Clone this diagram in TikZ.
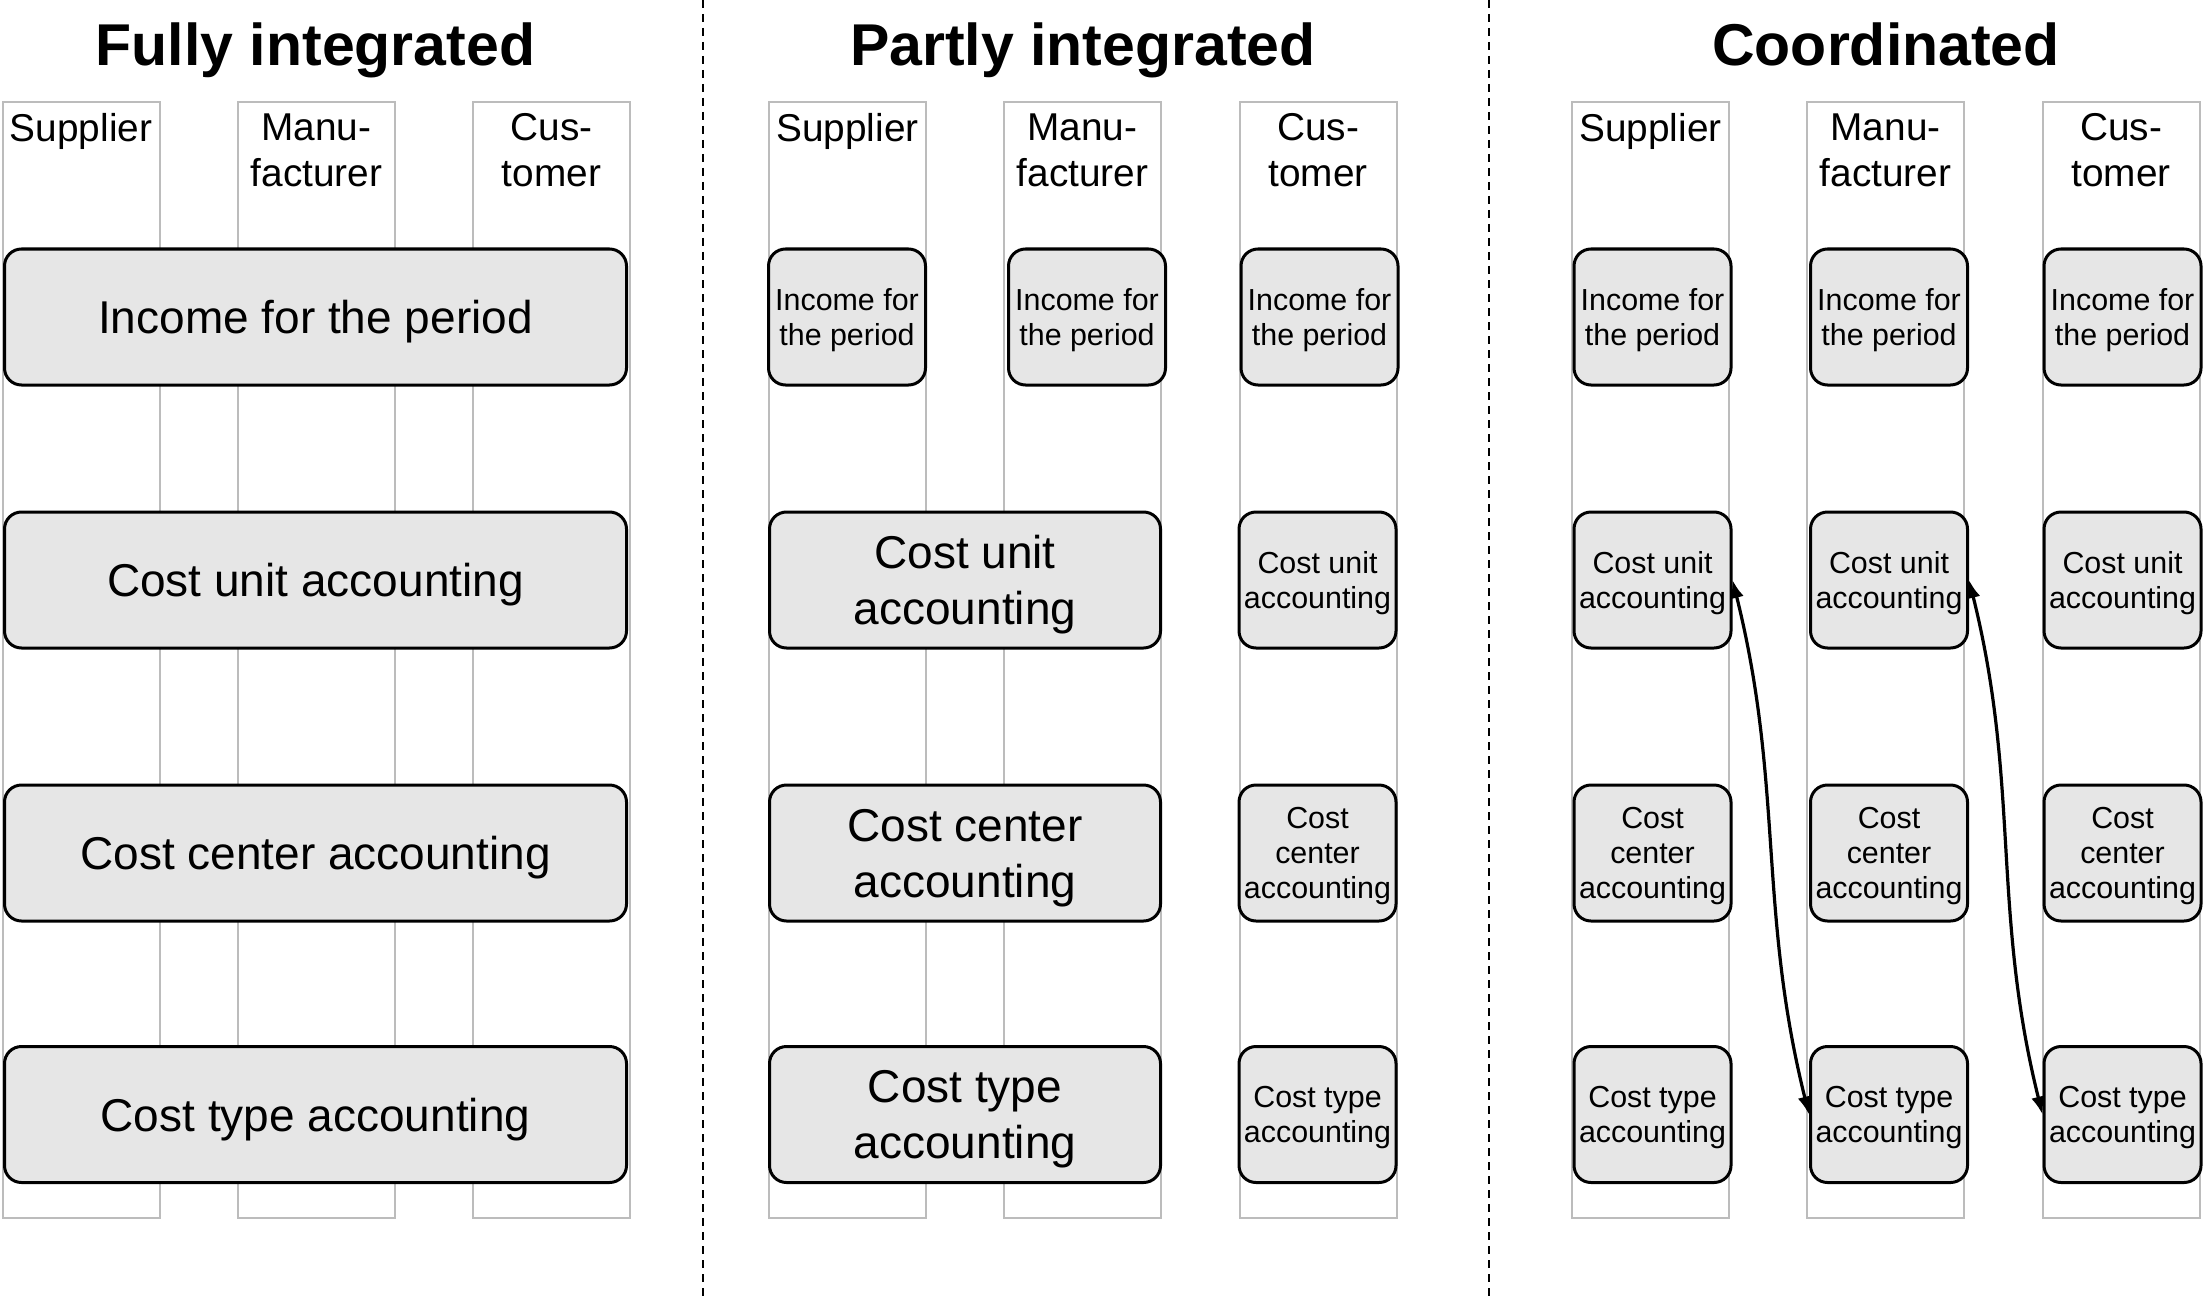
\documentclass[tikz,border=0pt]{standalone}
\usepackage{fontspec}
\setmainfont{Liberation Sans}
\usepackage{tikz}
\usetikzlibrary{arrows.meta,positioning}
\usepackage{xcolor}
\definecolor{boxgray}{RGB}{230,230,230}
\definecolor{lanegray}{RGB}{188,188,188}

\begin{document}
\begin{tikzpicture}[x=0.5pt,y=-0.5pt,
    lane/.style={draw=lanegray, line width=1pt},
    head/.style={anchor=north, inner sep=0pt, align=center, font=\fontsize{19.4}{23.25}\selectfont},
    paneltitle/.style={anchor=base, inner sep=0pt, font=\fontsize{29.5}{35}\selectfont\bfseries},
    acc/.style={draw, line width=1.5pt, fill=boxgray, rounded corners=8.5pt, align=center, inner sep=0pt, minimum height=68pt, text depth=0pt},
    bigbox/.style={acc, font=\fontsize{23}{28}\selectfont},
    smallbox/.style={acc, minimum width=78.5pt, text depth=-1pt, font=\fontsize{15.2}{17.5}\selectfont},
    link/.style={line width=1.6pt, {Latex[length=9pt,width=7pt]}-{Latex[length=9pt,width=7pt]}}]
    \useasboundingbox (0,0) rectangle (2209,1300);
    % Draw the separators between the three panels
    \draw[line width=0.75pt, dash pattern=on 4pt off 3pt] (703,0) -- (703,1300);
    \draw[line width=0.75pt, dash pattern=on 4pt off 3pt] (1489,0) -- (1489,1300);
    % Panel titles
    \node[paneltitle] (tfull) at (315.5,66) {Fully integrated};
    \node[paneltitle] (tpart) at (1083,66) {Partly integrated};
    \node[paneltitle] (tcoord) at (1886,66) {Coordinated};
    % Draw the lanes
    \foreach \x in {81,316.5,551.5,847.5,1082.5,1318,1650.5,1885.5,2121} {
        \draw[lane] (\x-78.5,102) rectangle (\x+78.5,1218);
    }
    % Lane headings
    \foreach \x [count=\p] in {81,847.5,1650.5} {
        \node[head] (sup\p) at (\x,113) {Supplier};
    }
    \foreach \x [count=\p] in {316.5,1082.5,1885.5} {
        \node[head] (man\p) at (\x,113) {Manu-\\facturer};
    }
    \foreach \x [count=\p] in {551.5,1318,2121} {
        \node[head] (cus\p) at (\x,113) {Cus-\\tomer};
    }
    % Fully integrated
    \node[bigbox, minimum width=311pt] (full1) at (315.5,317) {Income for the period};
    \node[bigbox, minimum width=311pt] (full2) at (315.5,580) {Cost unit accounting};
    \node[bigbox, minimum width=311pt] (full3) at (315.5,853) {Cost center accounting};
    \node[bigbox, minimum width=311pt] (full4) at (315.5,1114.5) {Cost type accounting};
    % Partly integrated
    \node[smallbox] (pis1) at (847,317) {Income for\\the period};
    \node[smallbox] (pim1) at (1087,317) {Income for\\the period};
    \node[smallbox] (pic1) at (1319.5,317) {Income for\\the period};
    \node[bigbox, minimum width=195.5pt] (pi2) at (965,580) {Cost unit\\accounting};
    \node[bigbox, minimum width=195.5pt] (pi3) at (965,853) {Cost center\\accounting};
    \node[bigbox, minimum width=195.5pt] (pi4) at (965,1114.5) {Cost type\\accounting};
    \node[smallbox] (pic2) at (1317.5,580) {Cost unit\\accounting};
    \node[smallbox] (pic3) at (1317.5,853) {Cost\\center\\accounting};
    \node[smallbox] (pic4) at (1317.5,1114.5) {Cost type\\accounting};
    % Coordinated
    \foreach \r/\y/\txt in {1/317/{Income for\\the period}, 2/580/{Cost unit\\accounting}, 3/853/{Cost\\center\\accounting}, 4/1114.5/{Cost type\\accounting}} {
        \foreach \l/\x in {s/1652.5, m/1889, c/2122.5} {
            \node[smallbox] (co\l\r) at (\x,\y) {\txt};
        }
    }
    % Links between the coordinated accountings
    \draw[link] (cos2.east) to[out=-76, in=104] (com4.west);
    \draw[link] (com2.east) to[out=-76, in=104] (coc4.west);
\end{tikzpicture}
\end{document}
